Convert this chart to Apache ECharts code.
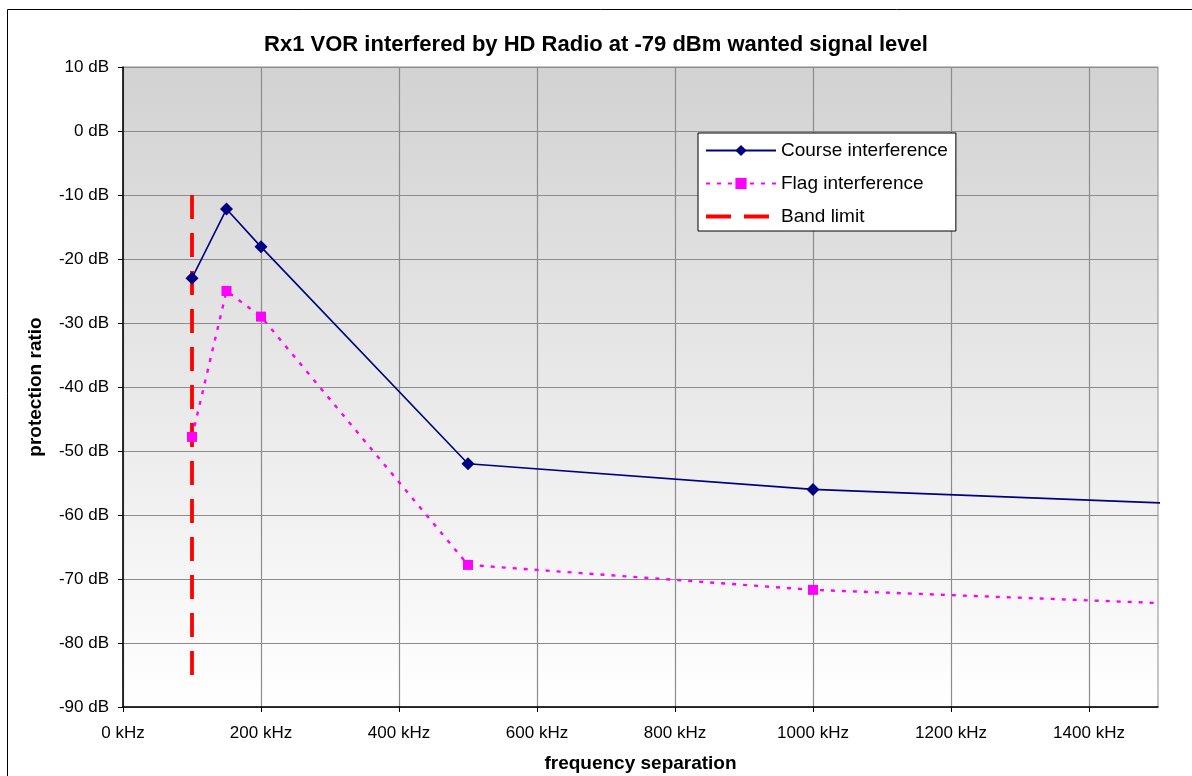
<!DOCTYPE html>
<html><head><meta charset="utf-8">
<script src="https://cdn.jsdelivr.net/npm/echarts@6/dist/echarts.min.js"></script>
<style>html,body{margin:0;padding:0;background:#fff}#c{width:1192px;height:776px}</style>
</head><body><div id="c"></div>
<script>
const titleText = 'Rx1 VOR interfered by HD Radio at -79 dBm wanted signal level';
const freqKHz = [100, 150, 200, 500, 1000, 2000];
const courseDB = [-23, -12.2, -18.1, -52, -56, -60.2];
const flagDB = [-47.8, -25, -29, -67.8, -71.7, -75.8];
const bandLimitX = [100, 100];
const bandLimitY = [-10, -85];
const xTicks = [0, 200, 400, 600, 800, 1000, 1200, 1400];

const font = 'Liberation Sans, Arial, sans-serif';
const chart = echarts.init(document.getElementById('c'), null, {renderer: 'canvas'});
const zip = (a, b) => a.map((v, i) => [v, b[i]]);
const dashIcon = 'path://M0,5 H25 V9 H0 Z M38,5 H63 V9 H38 Z M0,0 h0.01 v0.01 h-0.01 Z M70,14 h0.01 v0.01 h-0.01 Z';
chart.setOption({
  animation: false,
  backgroundColor: '#fff',
  title: {text: titleText, left: 'center', top: 34, padding: 0,
    textStyle: {fontFamily: font, fontSize: 22, fontWeight: 'bold', color: '#000'}},
  graphic: [{type: 'rect', shape: {x: 7.5, y: 9.5, width: 1300, height: 900},
    style: {fill: 'none', stroke: '#000', lineWidth: 1}, silent: true, z: 100}],
  grid: {left: 123, top: 67, right: 34, bottom: 69, show: true, borderWidth: 1,
    outerBoundsMode: 'none', containLabel: false,
    borderColor: '#8c8c8c',
    backgroundColor: new echarts.graphic.LinearGradient(0, 0, 0, 1, [
      {offset: 0, color: '#d2d2d2'}, {offset: 1, color: '#ffffff'}])},
  legend: {
    left: 698, top: 133, orient: 'vertical',
    backgroundColor: '#fff', borderColor: '#000', borderWidth: 1,
    padding: [8, 8, 5, 7], itemGap: 14, itemWidth: 70, itemHeight: 14,
    textStyle: {fontFamily: font, fontSize: 19, color: '#000'},
    data: [{name: 'Course interference'}, {name: 'Flag interference'},
      {name: 'Band limit', icon: dashIcon}]
  },
  xAxis: {
    type: 'value', min: 0, max: 1500, interval: 200,
    name: 'frequency separation', nameLocation: 'middle', nameGap: 47,
    nameTextStyle: {fontFamily: font, fontSize: 19, fontWeight: 'bold', color: '#000'},
    axisLine: {show: true, onZero: false, lineStyle: {color: '#000', width: 1.5}},
    axisTick: {show: true, length: 5, inside: false, lineStyle: {color: '#000'},
      customValues: xTicks},
    axisLabel: {fontFamily: font, fontSize: 17, color: '#000', margin: 18,
      customValues: xTicks, formatter: v => v + ' kHz'},
    splitLine: {show: true, lineStyle: {color: '#8c8c8c', width: 1.2}}
  },
  yAxis: {
    type: 'value', min: -90, max: 10, interval: 10,
    name: 'protection ratio', nameLocation: 'middle', nameGap: 78, nameRotate: 90,
    nameTextStyle: {fontFamily: font, fontSize: 19, fontWeight: 'bold', color: '#000'},
    axisLine: {show: true, onZero: false, lineStyle: {color: '#000', width: 1.5}},
    axisTick: {show: true, length: 5, lineStyle: {color: '#000'}},
    axisLabel: {fontFamily: font, fontSize: 17, color: '#000', margin: 14,
      formatter: v => v + ' dB'},
    splitLine: {show: true, lineStyle: {color: '#8c8c8c', width: 1.2}}
  },
  series: [
    {name: 'Course interference', type: 'line', data: zip(freqKHz, courseDB),
      symbol: 'diamond', symbolSize: 13, itemStyle: {color: '#000080'},
      lineStyle: {color: '#000080', width: 1.6}, z: 4},
    {name: 'Flag interference', type: 'line', data: zip(freqKHz, flagDB),
      symbol: 'rect', symbolSize: 10, itemStyle: {color: '#ff00ff'},
      lineStyle: {color: '#ff00ff', width: 2.4, type: [4, 7]}, z: 3},
    {name: 'Band limit', type: 'line', data: zip(bandLimitX, bandLimitY),
      symbol: 'none', itemStyle: {color: '#ff0000'},
      lineStyle: {color: '#ff0000', width: 3.8, type: [24, 14]}, z: 2}
  ]
});
</script></body></html>
